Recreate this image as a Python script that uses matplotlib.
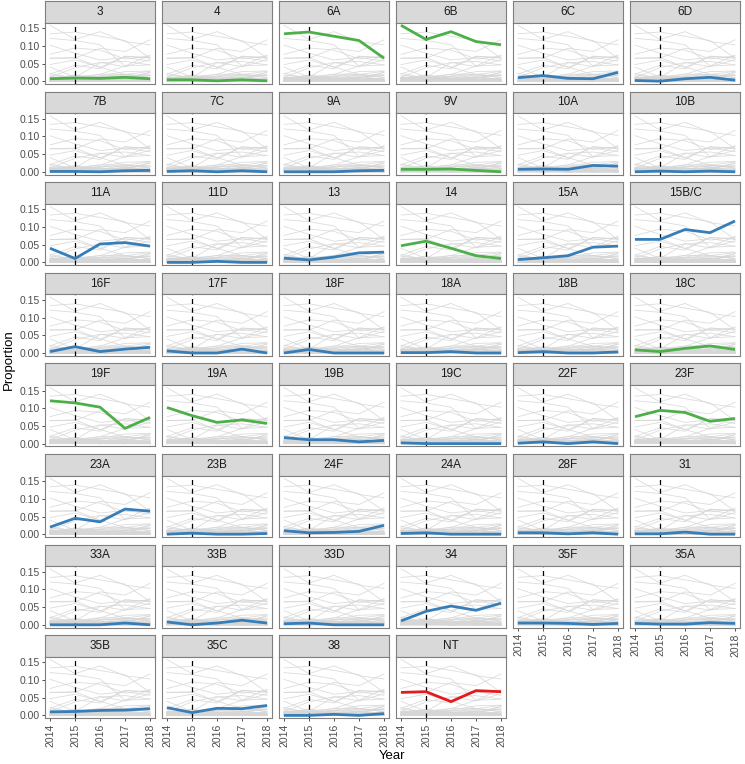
import numpy as np
import matplotlib
matplotlib.use("Agg")
from matplotlib import pyplot as plt

plt.rcParams['font.family'] = ['Liberation Sans', 'DejaVu Sans']

years = [2014, 2015, 2016, 2017, 2018]

serotypes = ["3", "4", "6A", "6B", "6C", "6D",
             "7B", "7C", "9A", "9V", "10A", "10B",
             "11A", "11D", "13", "14", "15A", "15B/C",
             "16F", "17F", "18F", "18A", "18B", "18C",
             "19F", "19A", "19B", "19C", "22F", "23F",
             "23A", "23B", "24F", "24A", "28F", "31",
             "33A", "33B", "33D", "34", "35F", "35A",
             "35B", "35C", "38", "NT"]

# proportion of isolates by year, same order as serotypes
p2014 = [.007, .004, .134, .158, .010, .002,
         .001, .001, .000, .007, .007, .000,
         .040, .000, .012, .047, .008, .065,
         .004, .006, .000, .001, .001, .009,
         .121, .102, .017, .002, .001, .076,
         .020, .000, .010, .002, .004, .001,
         .000, .008, .003, .011, .005, .004,
         .010, .022, .000, .065]
p2015 = [.009, .004, .139, .118, .016, .000,
         .001, .003, .000, .007, .008, .002,
         .011, .000, .007, .060, .013, .065,
         .018, .000, .010, .001, .004, .004,
         .115, .079, .011, .000, .005, .094,
         .045, .003, .004, .004, .004, .001,
         .000, .000, .005, .038, .005, .002,
         .011, .008, .000, .067]
p2016 = [.008, .001, .127, .140, .008, .007,
         .000, .000, .000, .008, .007, .000,
         .052, .003, .015, .040, .019, .093,
         .004, .000, .000, .004, .000, .013,
         .103, .060, .011, .000, .000, .088,
         .035, .000, .005, .000, .001, .006,
         .000, .005, .000, .053, .004, .002,
         .014, .020, .003, .039]
p2017 = [.011, .004, .115, .112, .007, .011,
         .003, .003, .003, .004, .018, .002,
         .056, .000, .027, .019, .043, .084,
         .011, .011, .000, .000, .000, .020,
         .043, .067, .005, .000, .005, .063,
         .071, .000, .008, .000, .004, .000,
         .005, .013, .000, .041, .001, .006,
         .015, .019, .000, .070]
p2018 = [.007, .001, .065, .103, .025, .003,
         .004, .000, .004, .000, .016, .000,
         .046, .000, .029, .011, .046, .117,
         .016, .000, .000, .000, .003, .010,
         .074, .057, .009, .000, .000, .071,
         .065, .002, .025, .000, .000, .000,
         .000, .005, .000, .061, .004, .004,
         .019, .028, .005, .067]

pcv13 = ["3", "4", "6A", "6B", "9V", "14", "18C", "19F", "19A", "23F"]
pcv_date = 2015

vals = np.array([p2014, p2015, p2016, p2017, p2018]).T

W, H = 745, 764
fig = plt.figure(figsize=(W / 100, H / 100), dpi=100)

ncol = 6
left0, col_pitch, pw = 45, 117, 110
top0, row_pitch, strip_h, ph = 1, 90.6, 21.5, 61.5
ymax = vals.max()
ylim = (-0.05 * ymax, 1.05 * ymax)
xlim = (2014 - 0.2, 2018 + 0.2)
n = len(serotypes)

for i, name in enumerate(serotypes):
    r, c = divmod(i, ncol)
    x0 = left0 + c * col_pitch
    st = top0 + r * row_pitch
    # strip
    sax = fig.add_axes([x0 / W, 1 - (st + strip_h) / H, pw / W, strip_h / H])
    sax.set_facecolor('#D9D9D9')
    sax.set_xticks([])
    sax.set_yticks([])
    for sp in sax.spines.values():
        sp.set_color('#7F7F7F')
        sp.set_linewidth(0.8)
    sax.text(0.5, 0.5, name, ha='center', va='center', fontsize=8.5, color='#1A1A1A',
             transform=sax.transAxes)

    ax = fig.add_axes([x0 / W, 1 - (st + strip_h + ph) / H, pw / W, ph / H])
    for j in range(n):
        ax.plot(years, vals[j], color='#D6D6D6', lw=0.6, alpha=0.85, zorder=1)
    ax.axvline(pcv_date, color='black', ls=(0, (4, 3)), lw=0.9, zorder=2)
    if name == "NT":
        color = '#E41A1C'
    elif name in pcv13:
        color = '#4DAF4A'
    else:
        color = '#377EB8'
    ax.plot(years, vals[i], color=color, lw=2.0, zorder=3, solid_capstyle='butt')
    ax.set_xlim(*xlim)
    ax.set_ylim(*ylim)
    for sp in ax.spines.values():
        sp.set_color('#7F7F7F')
        sp.set_linewidth(0.8)
    ax.tick_params(length=2.5, width=0.6, color='#333333', labelsize=7.5,
                   labelcolor='#4D4D4D', pad=1.5)
    ax.set_yticks([0, 0.05, 0.10, 0.15])
    ax.set_xticks(years)
    if c == 0:
        ax.set_yticklabels(['0.00', '0.05', '0.10', '0.15'])
    else:
        ax.tick_params(axis='y', left=False, labelleft=False)
    bottom = (i + ncol >= n)
    if bottom:
        ax.set_xticklabels([str(y) for y in years], rotation=90)
    else:
        ax.tick_params(axis='x', bottom=False, labelbottom=False)

fig.text(392 / W, 1 - 756 / H, 'Year', ha='center', va='center', fontsize=9.5)
fig.text(9 / W, 1 - 360 / H, 'Proportion', ha='center', va='center', fontsize=9.5,
         rotation=90)

fig.savefig('out.png', dpi=100)
